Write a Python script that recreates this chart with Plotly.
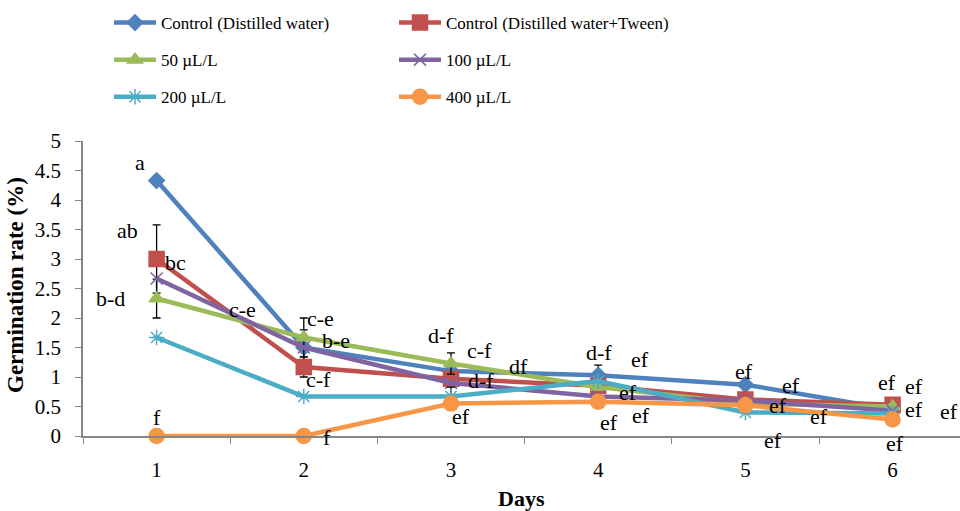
import plotly.graph_objects as go

days = [1, 2, 3, 4, 5, 6]
series_names = ["Control (Distilled water)", "Control (Distilled water+Tween)",
                "50 µL/L", "100 µL/L", "200 µL/L", "400 µL/L"]
control_dw = [4.33, 1.50, 1.10, 1.03, 0.87, 0.45]
control_tween = [3.00, 1.17, 0.97, 0.85, 0.62, 0.53]
c50 = [2.33, 1.67, 1.23, 0.83, 0.55, 0.50]
c100 = [2.67, 1.50, 0.90, 0.67, 0.60, 0.43]
c200 = [1.67, 0.67, 0.67, 0.93, 0.40, 0.38]
c400 = [0.00, 0.00, 0.55, 0.58, 0.52, 0.28]
err_dw = [0.07, 0.30, None, 0.17, None, None]
err_tween = [0.58, 0.17, None, None, None, None]
err_50 = [0.33, 0.33, 0.18, None, None, None]
err_200 = [None, None, 0.16, None, None, None]
y_ticks = [0, 0.5, 1, 1.5, 2, 2.5, 3, 3.5, 4, 4.5, 5]
y_ticktext = ["0", "0.5", "1", "1.5", "2", "2.5", "3", "3.5", "4", "4.5", "5"]
x_title = "Days"
y_title = "Germination rate (%)"

values = [control_dw, control_tween, c50, c100, c200, c400]
errors = [err_dw, err_tween, err_50, None, err_200, None]

# significance letters: (series index, day index, text)
letters = [
    (0, 0, "a"), (1, 0, "ab"), (3, 0, "bc"), (2, 0, "b-d"), (4, 0, "c-e"), (5, 0, "f"),
    (2, 1, "c-e"), (0, 1, "b-e"), (1, 1, "c-f"), (5, 1, "f"),
    (0, 2, "d-f"), (2, 2, "c-f"), (1, 2, "df"), (3, 2, "d-f"), (5, 2, "ef"),
    (0, 3, "d-f"), (1, 3, "ef"), (2, 3, "ef"), (5, 3, "ef"), (3, 3, "ef"),
    (0, 4, "ef"), (1, 4, "ef"), (5, 4, "ef"), (2, 4, "ef"), (4, 4, "ef"),
    (1, 5, "ef"), (2, 5, "ef"), (0, 5, "ef"), (3, 5, "ef"), (5, 5, "ef"),
]
# pixel offsets of each letter from its point (style)
offsets = [
    (-17, -18), (-29, -29), (19, -16), (-46, 0), (86, -28), (0, -19),
    (17, -19), (32, -7), (15, 13), (23, 1),
    (-10, -36), (28, -13), (67, -12), (30, -2), (10, 13),
    (1, -23), (42, -26), (30, 5), (11, 21), (43, 19),
    (-1, -13), (46, -14), (33, 0), (74, 13), (28, 28),
    (-6, -22), (21, -20), (21, 0), (56, 1), (2, 24),
]

colors = ["#4F81BD", "#C0504D", "#9BBB59", "#8064A2", "#4BACC6", "#F79646"]
symbols = ["diamond", "square", "triangle-up", "x-thin-open", "asterisk-open", "circle"]
msizes = [12, 15, 13, 12, 13, 15]
legend_ids = ["legend", "legend2", "legend", "legend2", "legend", "legend2"]

FONT = "Liberation Serif"
fig = go.Figure()
for i in range(6):
    kw = {}
    if errors[i] is not None:
        kw["error_y"] = dict(type="data", array=errors[i], visible=True,
                             color="black", thickness=1.3, width=4)
    fig.add_trace(go.Scatter(
        x=days, y=values[i], name=series_names[i], mode="lines+markers",
        line=dict(color=colors[i], width=4.5),
        marker=dict(symbol=symbols[i], size=msizes[i], color=colors[i],
                    line=dict(color=colors[i], width=1.5)),
        cliponaxis=False, legend=legend_ids[i], legendgroup=str(i),
        **kw))

for (si, di, txt), (dx, dy) in zip(letters, offsets):
    fig.add_annotation(x=days[di], y=values[si][di], text=txt, showarrow=False,
                       xshift=dx, yshift=-dy, xanchor="center", yanchor="middle",
                       font=dict(family=FONT, size=22, color="black"))

fig.add_annotation(xref="paper", yref="paper", x=-68 / 877, y=151 / 295, text="<b>%s</b>" % y_title,
                   textangle=-90, showarrow=False, xanchor="center", yanchor="middle",
                   font=dict(family=FONT, size=23, color="black"))
fig.add_annotation(xref="paper", yref="paper", x=0.5, y=-62 / 295, text="<b>%s</b>" % x_title,
                   showarrow=False, xanchor="center", yanchor="middle",
                   font=dict(family=FONT, size=22, color="black"))

leg_common = dict(xref="container", yref="container", xanchor="left", yanchor="top",
                  orientation="v", tracegroupgap=12, itemwidth=42, bgcolor="rgba(0,0,0,0)",
                  font=dict(family=FONT, size=17, color="black"))
fig.update_layout(
    width=960, height=511,
    margin=dict(l=83, r=0, t=141, b=75, autoexpand=False),
    plot_bgcolor="white", paper_bgcolor="white",
    showlegend=True,
    legend=dict(x=109 / 960, y=1 - 5 / 511, **leg_common),
    legend2=dict(x=394 / 960, y=1 - 5 / 511, **leg_common),
    xaxis=dict(range=[0.5, 0.5 + 877 / 147.2], tickvals=days, ticktext=[str(d) for d in days],
               ticks="", ticklabelstandoff=14,
               minor=dict(tick0=0.5, dtick=1, ticks="outside", ticklen=6, tickcolor="#868686", tickwidth=1.3),
               showline=True, linecolor="#868686", linewidth=1.5, showgrid=False, zeroline=False,
               tickfont=dict(family=FONT, size=21, color="black")),
    yaxis=dict(range=[0, 5], tickvals=y_ticks, ticktext=y_ticktext,
               ticks="outside", ticklen=6, tickcolor="#868686", tickwidth=1.3, ticklabelstandoff=10,
               showline=True, linecolor="#868686", linewidth=1.5, showgrid=False, zeroline=False,
               tickfont=dict(family=FONT, size=21, color="black")),
)
fig.write_html("out.html", config={"displayModeBar": False},
               post_script="document.body.style.margin='0';")
